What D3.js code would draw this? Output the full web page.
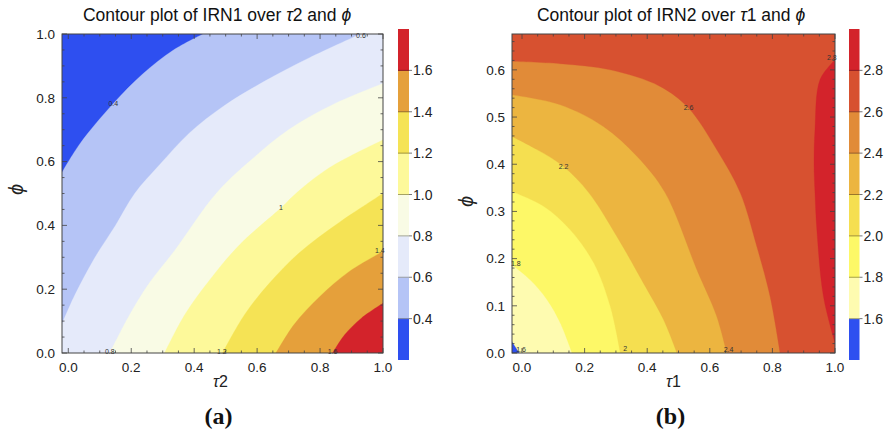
<!DOCTYPE html>
<html><head><meta charset="utf-8">
<script src="https://cdn.jsdelivr.net/npm/d3@7"></script>
<style>
body{margin:0;background:#fff;}
svg{font-family:"Liberation Sans",Arial,sans-serif;}
</style></head>
<body><svg id="c" width="889" height="431"></svg>
<script>
// ---------- DATA: panel (a) IRN1 over tau2, phi ----------
const levelsA = [0.4, 0.6, 0.8, 1.0, 1.2, 1.4, 1.6];
const barRangeA = [0.2, 1.8];
const colorsA = ["#2e4ff0","#b5c4f6","#e5eafa","#f9fbe5","#fdf99a","#f5e355","#e5a03b","#d3232b"];
const barTicksA = ["0.4","0.6","0.8","1.0","1.2","1.4","1.6"];
// contour boundaries [tau2, phi], ordered so that higher values lie on the right-hand side
const contA_04 = [[-0.02,0.566],[0.037,0.656],[0.143,0.782],[0.238,0.876],[0.333,0.949],[0.428,1.0]];
const contA_06 = [[-0.02,0.091],[0.02,0.18],[0.085,0.30],[0.15,0.40],[0.211,0.50],[0.29,0.59],[0.385,0.69],[0.495,0.775],[0.62,0.85],[0.765,0.925],[0.929,1.0]];
const contA_08 = [[0.132,0.0],[0.195,0.12],[0.258,0.22],[0.337,0.32],[0.47,0.50],[0.575,0.60],[0.70,0.70],[0.843,0.78],[1.0,0.845]];
const contA_10 = [[0.306,0.0],[0.37,0.12],[0.45,0.23],[0.545,0.34],[0.676,0.455],[0.723,0.50],[0.828,0.58],[1.0,0.668]];
const contA_12 = [[0.49,0.0],[0.56,0.12],[0.64,0.22],[0.735,0.315],[0.862,0.41],[1.0,0.50]];
const contA_14 = [[0.66,0.0],[0.718,0.09],[0.797,0.175],[0.892,0.255],[1.0,0.318]];
const contA_16 = [[0.84,0.0],[0.878,0.057],[0.932,0.11],[1.0,0.156]];
const contoursA = [contA_04, contA_06, contA_08, contA_10, contA_12, contA_14, contA_16];
const cLabelsA = [["0.4",0.143,0.782],["0.6",0.93,0.995],["0.8",0.132,0.004],["1",0.676,0.455],["1.2",0.488,0.004],["1.4",0.99,0.322],["1.6",0.84,0.004]];

// ---------- DATA: panel (b) IRN2 over tau1, phi ----------
const levelsB = [1.6, 1.8, 2.0, 2.2, 2.4, 2.6, 2.8];
const barRangeB = [1.4, 3.0];
const colorsB = ["#2e4ff0","#fefbb0","#fdf867","#f5df50","#ecb540","#e18b38","#d75130","#d3232b"];
const barTicksB = ["1.6","1.8","2.0","2.2","2.4","2.6","2.8"];
const contB_16 = [[-0.008,0.0],[-0.02,0.012],[-0.032,0.025]];
const contB_18 = [[0.16,0.0],[0.122,0.064],[0.08,0.113],[0.026,0.155],[-0.032,0.187]];
const contB_20 = [[0.314,0.0],[0.282,0.099],[0.229,0.191],[0.154,0.261],[0.069,0.311],[-0.032,0.342]];
const contB_22 = [[0.495,0.0],[0.452,0.071],[0.388,0.148],[0.303,0.247],[0.213,0.34],[0.133,0.395],[0.048,0.431],[-0.032,0.459]];
const contB_24 = [[0.654,0.0],[0.622,0.078],[0.559,0.176],[0.457,0.34],[0.367,0.417],[0.26,0.48],[0.122,0.526],[-0.032,0.547]];
const contB_26 = [[0.8245,0.0],[0.7925,0.12],[0.75,0.226],[0.697,0.34],[0.622,0.431],[0.532,0.519],[0.441,0.565],[0.282,0.60],[0.122,0.613],[-0.032,0.618]];
const contB_28 = [[1.0,0.021],[0.963,0.12],[0.942,0.261],[0.936,0.34],[0.933,0.40],[0.936,0.473],[0.952,0.579],[1.0,0.621]];
const contoursB = [contB_16, contB_18, contB_20, contB_22, contB_24, contB_26, contB_28];
const cLabelsB = [["1.6",-0.003,0.006],["1.8",-0.02,0.19],["2",0.33,0.01],["2.2",0.133,0.395],["2.4",0.66,0.006],["2.6",0.532,0.519],["2.8",0.99,0.625]];

const svg = d3.select("#c");

function boundaryT(p, X, Y){ // clockwise param (y-up): left edge up, top right, right down, bottom left
  const [x,y]=p;
  const fx=(x-X[0])/(X[1]-X[0]), fy=(y-Y[0])/(Y[1]-Y[0]);
  const d=[Math.abs(fx),Math.abs(1-fy),Math.abs(1-fx),Math.abs(fy)];
  const k=d.indexOf(Math.min(...d));
  if(k===0) return fy; if(k===1) return 1+fx; if(k===2) return 2+(1-fy); return 3+(1-fx);
}
function regionPoly(c, X, Y){
  const corners=[[X[0],Y[1]],[X[1],Y[1]],[X[1],Y[0]],[X[0],Y[0]]]; // at t=1,2,3,4
  const pts=c.slice();
  let te=boundaryT(c[c.length-1],X,Y), ts=boundaryT(c[0],X,Y);
  if(ts<=te) ts+=4;
  for(let t=Math.floor(te)+1;t<ts;t++){ pts.push(corners[(t-1)%4]); }
  return pts;
}

function panel(o){
  const g=svg.append("g");
  const x=d3.scaleLinear().domain(o.xd).range([o.L,o.R]);
  const y=d3.scaleLinear().domain(o.yd).range([o.B,o.T]);
  const cid="clip"+o.id;
  g.append("clipPath").attr("id",cid).append("rect").attr("x",o.L).attr("y",o.T).attr("width",o.R-o.L).attr("height",o.B-o.T);
  const pg=g.append("g").attr("clip-path",`url(#${cid})`);
  pg.append("rect").attr("x",o.L).attr("y",o.T).attr("width",o.R-o.L).attr("height",o.B-o.T).attr("fill",o.colors[0]);
  const line=d3.line().x(d=>x(d[0])).y(d=>y(d[1])).curve(d3.curveCatmullRom.alpha(0.5));
  o.contours.forEach((c,i)=>{
    const poly=regionPoly(c,o.xd,o.yd);
    const n=c.length;
    const curvePath=line(c);
    const rest=poly.slice(n).map(p=>`L${x(p[0])},${y(p[1])}`).join("");
    pg.append("path").attr("d",curvePath+rest+"Z").attr("fill",o.colors[i+1]).attr("stroke",o.colors[i+1]).attr("stroke-width",0.3);
  });
  // frame
  g.append("rect").attr("x",o.L).attr("y",o.T).attr("width",o.R-o.L).attr("height",o.B-o.T).attr("fill","none").attr("stroke","#444").attr("stroke-width",1);
  // ticks
  const tk=g.append("g").attr("stroke","#444").attr("stroke-width",0.8);
  const xt=d3.range(0,1.0001,0.05), xmaj=d3.range(0,1.0001,0.2);
  const isMaj=(v,step)=>Math.abs(v/step-Math.round(v/step))<1e-6;
  xt.forEach(v=>{const L=isMaj(v,0.2)?5:2.5, px=x(v);
    tk.append("line").attr("x1",px).attr("x2",px).attr("y1",o.B).attr("y2",o.B-L);
    tk.append("line").attr("x1",px).attr("x2",px).attr("y1",o.T).attr("y2",o.T+L);});
  const yt=d3.range(0,o.yd[1]+1e-6,o.yminor);
  yt.forEach(v=>{const L=isMaj(v,o.ystep)?5:2.5, py=y(v);
    tk.append("line").attr("y1",py).attr("y2",py).attr("x1",o.L).attr("x2",o.L+L);
    tk.append("line").attr("y1",py).attr("y2",py).attr("x1",o.R).attr("x2",o.R-L);});
  // contour labels (drawn above the frame, not clipped)
  o.clabels.forEach(l=>{
    g.append("text").attr("x",x(l[1])).attr("y",y(l[2])).attr("text-anchor","middle").attr("dy","0.33em")
      .attr("font-size",7).attr("fill","#333").text(l[0]);
  });
  // tick labels
  xmaj.forEach(v=>g.append("text").attr("x",x(v)).attr("y",o.B+18.5).attr("text-anchor","middle").attr("font-size",13.5).attr("fill","#222").text(d3.format(".1f")(v)));
  d3.range(0,o.yd[1]+1e-6,o.ystep).forEach(v=>g.append("text").attr("x",o.L-7).attr("y",y(v)).attr("dy","0.35em").attr("text-anchor","end").attr("font-size",13.5).attr("fill","#222").text(d3.format(".1f")(v)));
  // axis labels
  const xl=g.append("text").attr("x",(o.L+o.R)/2+(o.id==="a"?-2:0)).attr("y",387).attr("text-anchor","middle").attr("font-size",16).attr("fill","#222");
  xl.append("tspan").attr("font-style","italic").text("τ"); xl.append("tspan").text(o.xname);
  g.append("text").attr("transform",`translate(${o.L-46},${(o.T+o.B)/2+o.phidy})rotate(-90)`).attr("text-anchor","middle").attr("dy","0.35em").attr("font-size",20).attr("font-style","italic").attr("fill","#222").text("ϕ");
  // title
  const t=g.append("text").attr("x",o.tx).attr("y",21).attr("text-anchor","middle").attr("font-size",17.5).attr("fill","#111");
  t.append("tspan").text(o.title); t.append("tspan").attr("font-style","italic").text("τ");
  t.append("tspan").text(o.xname+" and  "); t.append("tspan").attr("font-style","italic").text("ϕ");
  // panel tag
  g.append("text").attr("x",(o.L+o.R)/2+o.tagdx).attr("y",424).attr("text-anchor","middle").attr("font-family","Liberation Serif, serif").attr("font-weight","bold").attr("font-size",24).attr("fill","#111").text(o.tag);
  // colorbar
  const cb=d3.scaleLinear().domain(o.bar).range([o.cbB,o.cbT]);
  const edges=[o.bar[0],...o.levels,o.bar[1]];
  o.colors.forEach((c,i)=>{
    g.append("rect").attr("x",o.cbL).attr("width",o.cbW).attr("y",cb(edges[i+1])).attr("height",cb(edges[i])-cb(edges[i+1])).attr("fill",c);
  });
  o.levels.forEach((lv,i)=>{
    const c=d3.color(o.colors[i+1]).darker(1.2);
    g.append("line").attr("x1",o.cbL).attr("x2",o.cbL+o.cbW).attr("y1",cb(lv)).attr("y2",cb(lv)).attr("stroke",c).attr("stroke-width",1);
    g.append("line").attr("x1",o.cbL+o.cbW).attr("x2",o.cbL+o.cbW+3).attr("y1",cb(lv)).attr("y2",cb(lv)).attr("stroke","#555").attr("stroke-width",0.8);
    g.append("text").attr("x",o.cbL+o.cbW+4).attr("y",cb(lv)).attr("dy","0.36em").attr("font-size",14).attr("fill","#222").text(o.barTicks[i]);
  });
}

panel({id:"a",L:62,R:383,T:34,B:353,xd:[-0.02,1],yd:[0,1],ystep:0.2,yminor:0.05,phidy:-4,
  colors:colorsA,levels:levelsA,contours:contoursA,clabels:cLabelsA,bar:barRangeA,barTicks:barTicksA,
  cbL:398,cbW:11,cbT:29,cbB:360,xname:"2",title:"Contour plot of IRN1 over ",tx:217,tag:"(a)",tagdx:-4});
panel({id:"b",L:512,R:835,T:34,B:353,xd:[-0.032,1],yd:[0,0.676],ystep:0.1,yminor:0.02,phidy:8,
  colors:colorsB,levels:levelsB,contours:contoursB,clabels:cLabelsB,bar:barRangeB,barTicks:barTicksB,
  cbL:849,cbW:10.5,cbT:29,cbB:360,xname:"1",title:"Contour plot of IRN2 over  ",tx:671,tag:"(b)",tagdx:-3});
</script></body></html>
